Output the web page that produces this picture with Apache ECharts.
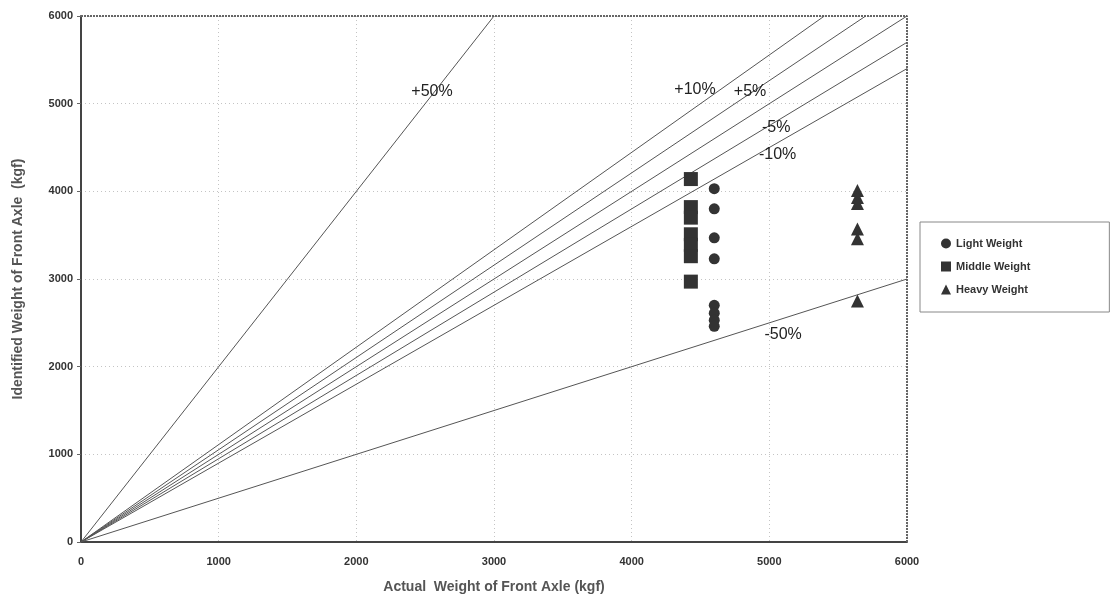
<!DOCTYPE html>
<html>
<head>
<meta charset="utf-8">
<script src="https://cdn.jsdelivr.net/npm/echarts@6/dist/echarts.min.js"></script>
<style>
  html, body { margin: 0; padding: 0; background: #fff; }
  #chart { width: 1113px; height: 602px; }
</style>
</head>
<body>
<div id="chart"></div>
<script>
// Axis ticks (kgf)
const xTicks = [0, 1000, 2000, 3000, 4000, 5000, 6000];
const yTicks = [0, 1000, 2000, 3000, 4000, 5000, 6000];

// Measured points: [actual, identified] front-axle weight (kgf)
const lightWeight = [
  [4600, 4030], [4600, 3800], [4600, 3470], [4600, 3230],
  [4600, 2700], [4600, 2610], [4600, 2530], [4600, 2460]
];
const middleWeight = [
  [4430, 4140], [4430, 3820], [4430, 3700], [4430, 3510],
  [4430, 3390], [4430, 3260], [4430, 2970]
];
const heavyWeight = [
  [5640, 4010], [5640, 3930], [5640, 3860], [5640, 3570],
  [5640, 3460], [5640, 2750]
];

// Error-band reference lines, from the origin to the plot edge
const linePlus50 = [[0, 0], [3000, 6000]];
const linePlus10 = [[0, 0], [5400, 6000]];
const linePlus5 = [[0, 0], [5700, 6000]];
const lineZero = [[0, 0], [6000, 6000]];
const lineMinus5 = [[0, 0], [6000, 5700]];
const lineMinus10 = [[0, 0], [6000, 5400]];
const lineMinus50 = [[0, 0], [6000, 3000]];

// Band captions placed in data coordinates
const bandLabels = [
  { text: '+50%', at: [2550, 5140] },
  { text: '+10%', at: [4460, 5160] },
  { text: '+5%', at: [4860, 5140] },
  { text: '-5%', at: [5050, 4730] },
  { text: '-10%', at: [5060, 4420] },
  { text: '-50%', at: [5100, 2370] }
];

const FONT = '"Liberation Sans", Arial, sans-serif';
const MARK = '#333';

function refLine(data) {
  return {
    type: 'line', data: data, symbol: 'none', silent: true,
    lineStyle: { color: '#555', width: 1 }, z: 2
  };
}

const chart = echarts.init(document.getElementById('chart'), null, { renderer: 'canvas' });

chart.setOption({
  backgroundColor: '#fff',
  animation: false,
  textStyle: { fontFamily: FONT },
  grid: { left: 81, right: 206, top: 16, bottom: 60 },
  legend: {
    orient: 'vertical',
    left: 920, top: 222,
    padding: [16, 79, 17, 21],
    itemGap: 12,
    itemWidth: 10, itemHeight: 10,
    borderColor: '#888', borderWidth: 1,
    textStyle: { fontFamily: FONT, fontSize: 11, fontWeight: 'bold', color: '#333' },
    data: [
      { name: 'Light Weight', icon: 'circle' },
      { name: 'Middle Weight', icon: 'rect' },
      { name: 'Heavy Weight', icon: 'triangle' }
    ]
  },
  xAxis: {
    type: 'value', min: 0, max: 6000, interval: 1000,
    name: 'Actual  Weight of Front Axle (kgf)',
    nameLocation: 'middle', nameGap: 38,
    nameTextStyle: { fontFamily: FONT, fontSize: 14, fontWeight: 'bold', color: '#555' },
    axisLine: { show: true, lineStyle: { color: '#444', width: 2 } },
    axisTick: { show: false },
    axisLabel: { fontFamily: FONT, fontSize: 11, fontWeight: 'bold', color: '#333', margin: 14,
                 formatter: v => xTicks.includes(v) ? String(v) : '' },
    splitLine: { show: true, lineStyle: { color: '#c4c4c4', type: [1, 3], width: 1 } }
  },
  yAxis: {
    type: 'value', min: 0, max: 6000, interval: 1000,
    name: 'Identified Weight of Front Axle  (kgf)',
    nameLocation: 'middle', nameGap: 56,
    nameTextStyle: { fontFamily: FONT, fontSize: 14, fontWeight: 'bold', color: '#555' },
    axisLine: { show: true, lineStyle: { color: '#444', width: 2 } },
    axisTick: { show: true, length: 4, inside: false, lineStyle: { color: '#666' } },
    axisLabel: { fontFamily: FONT, fontSize: 11, fontWeight: 'bold', color: '#333', margin: 8,
                 formatter: v => yTicks.includes(v) ? String(v) : '' },
    splitLine: { show: true, lineStyle: { color: '#c4c4c4', type: [1, 3], width: 1 } }
  },
  series: [
    refLine(linePlus50),
    refLine(linePlus10),
    refLine(linePlus5),
    refLine(lineZero),
    refLine(lineMinus5),
    refLine(lineMinus10),
    refLine(lineMinus50),
    // dotted top and right frame of the plot
    {
      type: 'line', data: [[0, 6000], [6000, 6000], [6000, 0]], symbol: 'none', silent: true,
      lineStyle: { color: '#666', width: 2, type: [2, 1] }, z: 1
    },
    {
      type: 'scatter', silent: true, symbolSize: 0, z: 3,
      itemStyle: { color: '#222', opacity: 1 },
      data: bandLabels.map(d => ({ value: d.at, name: d.text })),
      label: {
        show: true, position: 'inside', formatter: p => p.name,
        fontFamily: FONT, fontSize: 16, color: '#222', opacity: 1
      }
    },
    {
      name: 'Light Weight', type: 'scatter', symbol: 'circle', symbolSize: 11,
      data: lightWeight, itemStyle: { color: MARK, opacity: 1 }, z: 5
    },
    {
      name: 'Middle Weight', type: 'scatter', symbol: 'rect', symbolSize: 14,
      data: middleWeight, itemStyle: { color: MARK, opacity: 1 }, z: 5
    },
    {
      name: 'Heavy Weight', type: 'scatter', symbol: 'triangle', symbolSize: 13,
      data: heavyWeight, itemStyle: { color: MARK, opacity: 1 }, z: 5
    }
  ]
});
</script>
</body>
</html>
